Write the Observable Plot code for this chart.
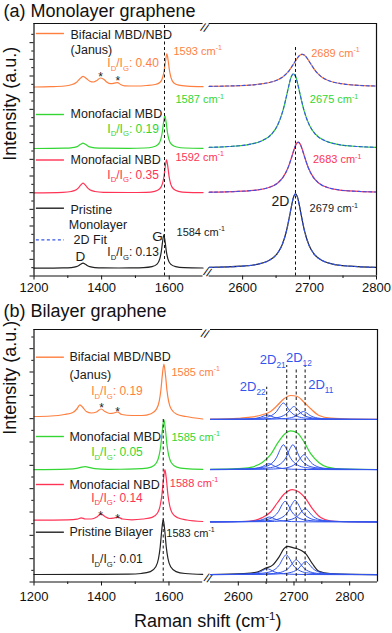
<!DOCTYPE html>
<html><head><meta charset="utf-8">
<script src="https://cdn.jsdelivr.net/npm/d3@7"></script>
<script src="https://cdn.jsdelivr.net/npm/@observablehq/plot@0.6"></script>
<style>
html,body{margin:0;padding:0;background:#fff;}
#chart{position:relative;width:392px;height:633px;overflow:hidden;}
#chart .p{position:absolute;left:0;}
#chart svg{display:block;overflow:visible;}
</style></head><body><div id="chart"></div>
<script>
// ---------------- DATA ----------------
// intensities are arbitrary units above each spectrum's stacking offset
const seriesKeys = ["bifacial", "mbd", "nbd", "pristine"];
const seriesColors = {bifacial: "#FF7F3F", mbd: "#33D633", nbd: "#FF3355", pristine: "#222222"};
const fitColor = "#3355EE";

// (a) Monolayer graphene
const monoOffsets = {bifacial: 189, mbd: 127.5, nbd: 83.2, pristine: 7.8};
const monoBifacialG = [[1200,0],[1250,0.3],[1290,1],[1310,2.2],[1325,4.5],[1335,8],[1345,10.7],[1355,8.5],[1365,5.8],[1376,5],[1386,6.5],[1396,9],[1406,7.8],[1416,4.8],[1426,3.4],[1437,3.8],[1447,4.4],[1456,2.5],[1468,1.2],[1500,1],[1533,1.5],[1558,2.5],[1573,4.8],[1581,10],[1585.5,17.5],[1589,26],[1593,33.2],[1597,26],[1600.5,17],[1605,9.7],[1613,4.3],[1628,1.8],[1653,0.8],[1700,0.3]];
const monoBifacial2D = [[2550,0.6],[2572,0.9],[2611,1.9],[2630,3.3],[2650,6.5],[2660,10.1],[2669.5,16.4],[2677,24],[2681,28.2],[2685,31.5],[2689,32.7],[2693,31.5],[2697,28.2],[2701,24],[2708.5,16.4],[2718,10.1],[2728,6.5],[2747.5,3.3],[2767,1.9],[2800,1]];
const monoMbdG = [[1200,0],[1290,0.3],[1310,0.7],[1325,1.6],[1331,2.6],[1338,4.2],[1345,5.3],[1352,4.2],[1359,2.6],[1365,1.6],[1380,0.7],[1405,0.3],[1480,0.2],[1527,0.5],[1552,1.5],[1567,4],[1575,9.2],[1579.5,16.5],[1583,25.7],[1587,33],[1591,25.7],[1594.5,16.5],[1599,9.2],[1607,4],[1622,1.5],[1647,0.5],[1700,0.2]];
const monoMbd2D = [[2550,1.2],[2580,2],[2612,4.4],[2628,7.5],[2644,14.9],[2652,23],[2660,37.4],[2666.4,54.9],[2669.6,64.4],[2672.8,71.9],[2676,74.7],[2679.2,71.9],[2682.4,64.4],[2685.6,54.9],[2692,37.4],[2700,23],[2708,14.9],[2724,7.5],[2740,4.4],[2772,2],[2800,1.2]];
const monoNbdG = [[1200,0],[1285,0.5],[1310,1.3],[1325,3],[1331.5,4.9],[1338,7.7],[1345,9.7],[1352,7.7],[1358.5,4.9],[1365,3],[1380,1.3],[1405,0.5],[1480,0.3],[1532,0.5],[1557,1.5],[1572,4],[1580,9.2],[1584.5,16.5],[1588,25.7],[1592,33],[1596,25.7],[1599.5,16.5],[1604,9.2],[1612,4],[1627,1.5],[1652,0.5],[1700,0.2]];
const monoNbd2D = [[2550,0.6],[2593,1.4],[2623,3],[2638,5.1],[2653,10.1],[2660.5,15.6],[2668,25.3],[2674,37.2],[2677,43.6],[2680,48.7],[2683,50.6],[2686,48.7],[2689,43.6],[2692,37.2],[2698,25.3],[2705.5,15.6],[2713,10.1],[2728,5.1],[2743,3],[2773,1.4],[2800,0.8]];
const monoPristineG = [[1200,0],[1250,0.1],[1285,0.25],[1310,0.65],[1325,1.55],[1331.5,2.5],[1338,4],[1345,5],[1352,4],[1358.5,2.5],[1365,1.55],[1380,0.65],[1405,0.3],[1450,0.2],[1484,0.3],[1524,0.6],[1549,1.6],[1564,4.1],[1572,9.3],[1576.5,16.6],[1580,25.8],[1584,33.4],[1588,25.8],[1591.5,16.6],[1596,9.3],[1604,4.1],[1619,1.6],[1644,0.6],[1700,0.2]];
const monoPristine2D = [[2550,0.8],[2598,2],[2625,4.4],[2638.5,7.4],[2652,14.9],[2658.8,22.9],[2665.5,37.2],[2670.9,54.7],[2673.6,64.1],[2676.3,71.6],[2679,74.4],[2681.7,71.6],[2684.4,64.1],[2687.1,54.7],[2692.5,37.2],[2699.2,22.9],[2706,14.9],[2719.5,7.4],[2733,4.4],[2760,2],[2800,0.9]];

// (b) Bilayer graphene
const biOffsets = {bifacial: 162.5, mbd: 112.3, nbd: 60, pristine: 7.3};
const biBifacialG = [[1200,3],[1250,3.5],[1290,5],[1315,7],[1327,10.5],[1336,14.7],[1345,12],[1355,8],[1370,6.5],[1385,7.5],[1399,10.5],[1410,8],[1425,6],[1437,6.5],[1447,7.5],[1460,5],[1490,4],[1520,4],[1547,5.8],[1563,10.4],[1571,18.2],[1576,29.3],[1580.5,45],[1585,55.5],[1589.5,45],[1594,29.3],[1599,18.2],[1607,10.2],[1623,5.3],[1650,3],[1700,0.5]];
const biBifacial2D = [[2550,0.3],[2600,1.2],[2622,2.3],[2643,4.7],[2658,8],[2670,14],[2682,20.7],[2694,24],[2706,23],[2718,17.3],[2730,10.7],[2745,4],[2766,1.3],[2800,0.4],[2850,0.2]];
const biMbdG = [[1200,0],[1300,0.5],[1330,1.5],[1341,2.5],[1352,3],[1363,2.3],[1380,1],[1420,0.4],[1480,0.5],[1520,1],[1547,2.6],[1563,7],[1571,14.5],[1576,25],[1580.5,40],[1585,50],[1589.5,40],[1594,25],[1599,14.5],[1607,7],[1623,2.6],[1650,1],[1700,0.3]];
const biMbd2D = [[2550,0.3],[2600,1],[2622,2.3],[2643,7.3],[2658,15],[2670,26],[2682,35],[2694,38.8],[2706,36.8],[2718,27.8],[2730,16],[2745,7],[2760,2.6],[2790,0.6],[2850,0.2]];
const biNbdG = [[1200,1.8],[1300,2.2],[1328,2.8],[1340,4.2],[1352,3],[1370,3],[1386,5],[1398,8.2],[1410,5.5],[1424,3.5],[1437,4],[1449,4.8],[1462,3],[1490,2.2],[1523,3],[1550,4.6],[1566,9],[1574,16.5],[1579,27],[1583.5,42.2],[1588,52.3],[1592.5,42.2],[1597,27],[1602,16.5],[1610,8.8],[1626,4.2],[1653,2],[1700,0.5]];
const biNbd2D = [[2550,0.2],[2600,0.5],[2622,1],[2643,4.4],[2658,10],[2670,19],[2682,27.7],[2697,32.4],[2709,30],[2721,23.4],[2733,13.4],[2748,4.4],[2766,1],[2800,0.3],[2850,0.1]];
const biPristineG = [[1200,0.2],[1400,0.3],[1480,0.5],[1518,1.2],[1545,3.1],[1561,7.9],[1569,16.2],[1574,27.7],[1578.5,44.2],[1583,55.2],[1587.5,44.2],[1592,27.7],[1597,16.2],[1605,7.9],[1621,3.1],[1648,1.2],[1700,0.4]];
const biPristine2D = [[2550,0.2],[2610,1],[2634,2.6],[2649,6.6],[2661,9.3],[2673,17.6],[2682,26],[2689,28.3],[2698,27],[2706,26],[2714,24],[2721,21],[2733,11],[2745,3.3],[2765,1],[2800,0.3],[2850,0.1]];

// 2D sub-peak fits (2D22, 2D21, 2D12, 2D11) for each bilayer spectrum
const biBifacialFits = [
  [[2550,.05],[2582,.13],[2612,.37],[2627,.86],[2640,2.25],[2647,3.8],[2652,4.5],[2657,3.8],[2664,2.25],[2677,.86],[2692,.37],[2722,.13],[2850,.02]],
  [[2550,.2],[2611,.48],[2641,1.37],[2656,3.1],[2669,8.25],[2676,14],[2681,16.5],[2686,14],[2693,8.25],[2706,3.1],[2721,1.37],[2751,.48],[2850,.08]],
  [[2550,.12],[2630,.38],[2660,1.08],[2675,2.5],[2688,6.5],[2695,11],[2700,13],[2705,11],[2712,6.5],[2725,2.5],[2740,1.08],[2770,.38],[2850,.08]],
  [[2550,.06],[2647,.23],[2677,.66],[2692,1.5],[2705,4],[2712,6.8],[2717,8],[2722,6.8],[2729,4],[2742,1.5],[2757,.66],[2787,.23],[2850,.06]]
];
const biMbdFits = [
  [[2550,.06],[2585,.17],[2615,.5],[2630,1.14],[2643,3],[2650,5.1],[2655,6],[2660,5.1],[2667,3],[2680,1.14],[2695,.5],[2725,.17],[2850,.03]],
  [[2550,.3],[2611,.73],[2641,2.1],[2656,4.75],[2669,12.5],[2676,21.2],[2681,25],[2686,21.2],[2693,12.5],[2706,4.75],[2721,2.1],[2751,.73],[2850,.12]],
  [[2550,.25],[2628,.73],[2658,2.1],[2673,4.75],[2686,12.5],[2693,21.2],[2698,25],[2703,21.2],[2710,12.5],[2723,4.75],[2738,2.1],[2768,.73],[2850,.15]],
  [[2550,.12],[2648,.44],[2678,1.25],[2693,2.85],[2706,7.5],[2713,12.7],[2718,15],[2723,12.7],[2730,7.5],[2743,2.85],[2758,1.25],[2788,.44],[2850,.12]]
];
const biNbdFits = [
  [[2550,.05],[2586,.15],[2616,.42],[2631,.95],[2644,2.5],[2651,4.25],[2656,5],[2661,4.25],[2668,2.5],[2681,.95],[2696,.42],[2726,.15],[2850,.03]],
  [[2550,.22],[2614,.6],[2644,1.7],[2659,3.9],[2672,10.3],[2679,17.6],[2684,20.7],[2689,17.6],[2696,10.3],[2709,3.9],[2724,1.7],[2754,.6],[2850,.1]],
  [[2550,.2],[2632,.63],[2662,1.8],[2677,4.1],[2690,10.8],[2697,18.4],[2702,21.7],[2707,18.4],[2714,10.8],[2727,4.1],[2742,1.8],[2772,.63],[2850,.13]],
  [[2550,.1],[2650,.39],[2680,1.1],[2695,2.55],[2708,6.7],[2715,11.4],[2720,13.4],[2725,11.4],[2732,6.7],[2745,2.55],[2760,1.1],[2790,.39],[2850,.1]]
];
const biPristineFits = [
  [[2550,.06],[2582,.17],[2612,.5],[2627,1.14],[2640,3],[2647,5.1],[2652,6],[2657,5.1],[2664,3],[2677,1.14],[2692,.5],[2722,.17],[2850,.03]],
  [[2550,.2],[2616,.58],[2646,1.66],[2661,3.8],[2674,10],[2681,17],[2686,20],[2691,17],[2698,10],[2711,3.8],[2726,1.66],[2756,.58],[2850,.1]],
  [[2550,.13],[2634,.44],[2664,1.25],[2679,2.85],[2692,7.5],[2699,12.7],[2704,15],[2709,12.7],[2716,7.5],[2729,2.85],[2744,1.25],[2774,.44],[2850,.1]],
  [[2550,.1],[2651,.39],[2681,1.1],[2696,2.5],[2709,6.65],[2716,11.3],[2721,13.3],[2726,11.3],[2733,6.65],[2746,2.5],[2761,1.1],[2791,.39],[2850,.1]]
];

// series labels and ratios
const seriesNames = {bifacial: "Bifacial MBD/NBD", mbd: "Monofacial MBD", nbd: "Monofacial NBD"};
const monoRatios = {bifacial: "0.40", mbd: "0.19", nbd: "0.35", pristine: "0.13"};
const monoGPos = {bifacial: 1593, mbd: 1587, nbd: 1592, pristine: 1584};
const mono2DPos = {bifacial: 2689, mbd: 2675, nbd: 2683, pristine: 2679};
const biRatios = {bifacial: "0.19", mbd: "0.05", nbd: "0.14", pristine: "0.01"};
const biGPos = {bifacial: 1585, mbd: 1585, nbd: 1588, pristine: 1583};
const subPeakNames = ["22", "21", "12", "11"];
const subPeakLines = [2651, 2687, 2704, 2720];
const xTicksMajor = [1200, 1400, 1600, 2600, 2700, 2800];
const xTicksMinor = [1300, 1500, 2650, 2750];

// ---------------- LAYOUT ----------------
const FONT = "'Liberation Sans', Arial, Helvetica, sans-serif";
const DARK = "#1a1a1a";
const RATIO_SIZE = 12;
const brkA = v => v < 2100 ? v : 1718 + (v - 2550) * 1.98;   // broken axis (a)
const brkB = v => v < 2100 ? v : 1723 + (v - 2550) * 1.65;   // broken axis (b)
const noLabel = () => "";

function spec(points, offset, stroke, extra = {}) {
  return Plot.line(points, {x: d => d[0], y: d => d[1] + offset, stroke, strokeWidth: 1.2, curve: "monotone-x", ...extra});
}
function frame(top, rightEnd, breakX) {
  return [
    Plot.ruleY([0, top], {x1: 1200, x2: 1700, stroke: "#111", strokeWidth: 1.2}),
    Plot.ruleY([0, top], {x1: 2550, x2: rightEnd, stroke: "#111", strokeWidth: 1.2}),
    Plot.ruleX([1200, rightEnd], {y1: 0, y2: top, stroke: "#111", strokeWidth: 1.2}),
    Plot.text(["//"], {x: breakX, frameAnchor: "top", fontSize: 12, rotate: 20, fill: "#111"}),
    Plot.text(["//"], {x: breakX, frameAnchor: "bottom", fontSize: 12, rotate: 20, fill: "#111"})
  ];
}
function axes(ySteps, pad) {
  const yt = d3.range(0, 246, ySteps);
  return [
    Plot.axisX(xTicksMajor, {tickSize: 4, tickPadding: pad, tickFormat: d3.format("d"), fontSize: 13, label: null}),
    Plot.axisX(xTicksMinor, {tickSize: 2.5, tickFormat: noLabel, label: null}),
    Plot.axisY(yt.filter((d, i) => i % 2 === 0), {tickSize: 4, tickFormat: noLabel, label: null}),
    Plot.axisY(yt.filter((d, i) => i % 2 === 1), {tickSize: 2.2, tickFormat: noLabel, label: null})
  ];
}
function labels(items) {
  const base = {x: "x", y: "y", text: "text", fill: d => d.color ?? DARK, fontSize: d => d.size ?? 12.5, lineAnchor: "middle"};
  return [
    Plot.text(items.filter(d => !d.anchor), {...base, textAnchor: "start"}),
    Plot.text(items.filter(d => d.anchor === "middle"), {...base, textAnchor: "middle"}),
    Plot.text(items.filter(d => d.anchor === "star"), {...base, textAnchor: "middle", dy: 3.5})
  ];
}

// ---------- panel (a) ----------
const monoG = {bifacial: monoBifacialG, mbd: monoMbdG, nbd: monoNbdG, pristine: monoPristineG};
const mono2D = {bifacial: monoBifacial2D, mbd: monoMbd2D, nbd: monoNbd2D, pristine: monoPristine2D};
const c = seriesColors;
const labelsA = [
  {text: seriesNames.bifacial, x: 1308, y: 241.5}, {text: "(Janus)", x: 1308, y: 226.5},
  {text: `I_{D}/I_{G}: ${monoRatios.bifacial}`, x: 1417, y: 212.5, color: c.bifacial, size: RATIO_SIZE},
  {text: `${monoGPos.bifacial} cm^{-1}`, x: 1612.6, y: 224.8, color: c.bifacial, size: 11},
  {text: `${mono2DPos.bifacial} cm^{-1}`, x: 2702.5, y: 222.8, color: c.bifacial, size: 11},
  {text: seriesNames.mbd, x: 1308, y: 162.2},
  {text: `I_{D}/I_{G}: ${monoRatios.mbd}`, x: 1417, y: 147.2, color: c.mbd, size: RATIO_SIZE},
  {text: `${monoGPos.mbd} cm^{-1}`, x: 1618.5, y: 176.5, color: c.mbd, size: 11},
  {text: `${mono2DPos.mbd} cm^{-1}`, x: 2700.4, y: 176.5, color: c.mbd, size: 11},
  {text: seriesNames.nbd, x: 1308, y: 116},
  {text: `I_{D}/I_{G}: ${monoRatios.nbd}`, x: 1417, y: 101.2, color: c.nbd, size: RATIO_SIZE},
  {text: `${monoGPos.nbd} cm^{-1}`, x: 1618.5, y: 118.8, color: c.nbd, size: 11},
  {text: `${mono2DPos.nbd} cm^{-1}`, x: 2705, y: 116.5, color: c.nbd, size: 11},
  {text: "Pristine", x: 1308, y: 66.2}, {text: "Monolayer", x: 1303, y: 51.5}, {text: "2D Fit", x: 1317, y: 36.2},
  {text: `I_{D}/I_{G}: ${monoRatios.pristine}`, x: 1417, y: 23.8, size: RATIO_SIZE},
  {text: `${monoGPos.pristine} cm^{-1}`, x: 1621.5, y: 43.8, size: 11},
  {text: `${mono2DPos.pristine} cm^{-1}`, x: 2700, y: 67.2, size: 11},
  {text: "G", x: 1565, y: 39.5, anchor: "middle", size: 13.5},
  {text: "D", x: 1337.5, y: 19.5, anchor: "middle", size: 13.5},
  {text: "2D", x: 2643, y: 74.8, size: 14},
  {text: "*", x: 1397, y: 202.8, anchor: "star", size: 12},
  {text: "*", x: 1448, y: 198.2, anchor: "star", size: 12}
];
const legendA = [
  {y: 242.5, color: c.bifacial}, {y: 161.5, color: c.mbd}, {y: 116, color: c.nbd}, {y: 67.8, color: c.pristine}
];
const plotA = Plot.plot({
  width: 392, height: 300, marginLeft: 33.5, marginRight: 16, marginTop: 23, marginBottom: 24.5,
  style: {fontFamily: FONT, fontSize: "12.5px", background: "transparent", overflow: "visible", color: "#111"},
  x: {transform: brkA}, y: {domain: [0, 252.5]},
  marks: [
    ...seriesKeys.flatMap(k => [spec(monoG[k], monoOffsets[k], c[k]), spec(mono2D[k], monoOffsets[k], c[k])]),
    ...seriesKeys.map(k => spec(mono2D[k], monoOffsets[k], fitColor, {strokeWidth: 1.1, strokeDasharray: "3,2.5"})),
    Plot.ruleX([1586], {y1: 0, y2: 250.5, stroke: "#111", strokeDasharray: "3,2.5", strokeWidth: 1}),
    Plot.ruleX([2679], {y1: 0, y2: 228.8, stroke: "#111", strokeDasharray: "3,2.5", strokeWidth: 1}),
    Plot.ruleY(legendA, {y: "y", x1: 1207, x2: 1290, stroke: "color", strokeWidth: 1.4}),
    Plot.ruleY([36.2], {x1: 1207, x2: 1290, stroke: fitColor, strokeWidth: 1.2, strokeDasharray: "3,2.5"}),
    ...frame(252.5, 2800, 1709),
    ...labels(labelsA),
    Plot.text(["(a) Monolayer graphene"], {frameAnchor: "top-left", dx: -30.5, dy: -12.5, textAnchor: "start", lineAnchor: "middle", fontSize: 18, fill: "#111"}),
    Plot.text(["Intensity (a.u.)"], {frameAnchor: "left", rotate: -90, dx: -23.5, dy: 11, fontSize: 18, fill: "#111"}),
    ...axes(25 / 3, 3)
  ]
});

// ---------- panel (b) ----------
const biG = {bifacial: biBifacialG, mbd: biMbdG, nbd: biNbdG, pristine: biPristineG};
const bi2D = {bifacial: biBifacial2D, mbd: biMbd2D, nbd: biNbd2D, pristine: biPristine2D};
const biFits = {bifacial: biBifacialFits, mbd: biMbdFits, nbd: biNbdFits, pristine: biPristineFits};
const labelsB = [
  {text: seriesNames.bifacial, x: 1305, y: 224.8}, {text: "(Janus)", x: 1305, y: 207.5},
  {text: `I_{D}/I_{G}: ${biRatios.bifacial}`, x: 1369.5, y: 190.8, color: c.bifacial, size: RATIO_SIZE},
  {text: `${biGPos.bifacial} cm^{-1}`, x: 1607.5, y: 209.8, color: c.bifacial, size: 11},
  {text: seriesNames.mbd, x: 1305, y: 144.8},
  {text: `I_{D}/I_{G}: ${biRatios.mbd}`, x: 1369.5, y: 129.8, color: c.mbd, size: RATIO_SIZE},
  {text: `${biGPos.mbd} cm^{-1}`, x: 1607.5, y: 144.8, color: c.mbd, size: 11},
  {text: seriesNames.nbd, x: 1305, y: 97.5},
  {text: `I_{D}/I_{G}: ${biRatios.nbd}`, x: 1369.5, y: 84.2, color: c.nbd, size: RATIO_SIZE},
  {text: `${biGPos.nbd} cm^{-1}`, x: 1602.5, y: 98.8, color: c.nbd, size: 11},
  {text: "Pristine Bilayer", x: 1305, y: 49.8},
  {text: `I_{D}/I_{G}: ${biRatios.pristine}`, x: 1369.5, y: 22.5, size: RATIO_SIZE},
  {text: `${biGPos.pristine} cm^{-1}`, x: 1592, y: 48.8, size: 11},
  {text: `2D_{${subPeakNames[0]}}`, x: 2602.6, y: 195.5, color: fitColor, size: 13},
  {text: `2D_{${subPeakNames[1]}}`, x: 2638.6, y: 222.2, color: fitColor, size: 13},
  {text: `2D_{${subPeakNames[2]}}`, x: 2685.5, y: 224.2, color: fitColor, size: 13},
  {text: `2D_{${subPeakNames[3]}}`, x: 2725.5, y: 197.2, color: fitColor, size: 13},
  {text: "*", x: 1400, y: 177.2, anchor: "star", size: 12},
  {text: "*", x: 1448, y: 173.2, anchor: "star", size: 12},
  {text: "*", x: 1397, y: 69.8, anchor: "star", size: 12},
  {text: "*", x: 1448, y: 66.5, anchor: "star", size: 12}
];
const legendB = [
  {y: 224.8, color: c.bifacial}, {y: 145.5, color: c.mbd}, {y: 97.5, color: c.nbd}, {y: 49.8, color: c.pristine}
];
const subLineTops = [194.8, 216.5, 213.2, 216.5];
const plotB = Plot.plot({
  width: 392, height: 333, marginLeft: 33.5, marginRight: 15, marginTop: 29, marginBottom: 51.5,
  style: {fontFamily: FONT, fontSize: "12.5px", background: "transparent", overflow: "visible", color: "#111"},
  x: {transform: brkB}, y: {domain: [0, 252.5]},
  marks: [
    ...seriesKeys.flatMap(k => [spec(biG[k], biOffsets[k], c[k]), spec(bi2D[k], biOffsets[k], c[k])]),
    ...seriesKeys.flatMap(k => biFits[k].map(f => spec(f, biOffsets[k], fitColor, {strokeWidth: 1}))),
    Plot.ruleX([1583], {y1: 0, y2: 165, stroke: "#111", strokeDasharray: "3,2.5", strokeWidth: 1}),
    Plot.ruleX(subPeakLines, {y1: 0, y2: (d, i) => subLineTops[i], stroke: "#111", strokeDasharray: "3,2.5", strokeWidth: 1}),
    Plot.ruleY(legendB, {y: "y", x1: 1207, x2: 1290, stroke: "color", strokeWidth: 1.4}),
    ...frame(252.5, 2850, 1711.5),
    ...labels(labelsB),
    Plot.text(["(b) Bilayer graphene"], {frameAnchor: "top-left", dx: -30.5, dy: -18.5, textAnchor: "start", lineAnchor: "middle", fontSize: 18, fill: "#111"}),
    Plot.text(["Intensity (a.u.)"], {frameAnchor: "left", rotate: -90, dx: -23.5, dy: -21, fontSize: 18, fill: "#111"}),
    Plot.text(["Raman shift (cm^{-1})"], {frameAnchor: "bottom", dx: 2, dy: 39.5, lineAnchor: "middle", fontSize: 18, fill: "#111"}),
    ...axes(35 / 3, 6)
  ]
});

// ---------- mount + rich text (sub/superscripts) ----------
const root = document.getElementById("chart");
[[plotA, 0], [plotB, 300]].forEach(([p, top]) => {
  const d = document.createElement("div"); d.className = "p"; d.style.top = top + "px";
  d.appendChild(p); root.appendChild(d);
});
function richText(svg) {
  svg.querySelectorAll("text").forEach(el => {
    const t = el.textContent;
    if (!/[_^]\{/.test(t)) return;
    const fs = parseFloat(getComputedStyle(el).fontSize) || 12;
    const parts = []; const re = /([_^])\{([^}]*)\}/g; let last = 0, m;
    while ((m = re.exec(t))) { if (m.index > last) parts.push({s: t.slice(last, m.index)}); parts.push({s: m[2], k: m[1]}); last = re.lastIndex; }
    if (last < t.length) parts.push({s: t.slice(last)});
    el.textContent = "";
    let shift = 0;
    for (const p of parts) {
      const ts = document.createElementNS("http://www.w3.org/2000/svg", "tspan");
      const target = p.k === "_" ? 0.3 * fs : p.k === "^" ? -0.4 * fs : 0;
      ts.setAttribute("dy", (target - shift).toFixed(2)); shift = target;
      if (p.k) ts.setAttribute("font-size", (0.64 * fs).toFixed(2));
      ts.textContent = p.s;
      el.appendChild(ts);
    }
  });
}
richText(plotA); richText(plotB);
</script></body></html>
